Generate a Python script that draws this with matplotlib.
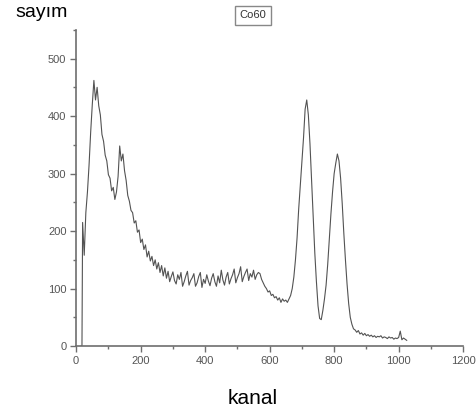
import matplotlib
matplotlib.use("Agg")
import matplotlib.pyplot as plt
from matplotlib.ticker import MultipleLocator

plt.rcParams["font.family"] = ["Liberation Sans", "DejaVu Sans"]

# Co60 spectrum (every 5 channels from 20 to 1025)
lead_kanal = [15, 18]
lead_sayim = [0, 0]
kanal_start, kanal_stop, kanal_step = 20, 1025, 5
sayim = [
    215, 158, 232, 268, 315, 372, 420, 462, 428, 450,
    418, 402, 368, 356, 332, 322, 298, 292, 270, 276,
    255, 268, 295, 348, 322, 334, 305, 288, 262, 252,
    236, 232, 214, 218, 198, 202, 180, 186, 168, 176,
    155, 165, 148, 156, 140, 150, 134, 145, 128, 140,
    122, 136, 118, 130, 112, 121, 129, 114, 108, 124,
    116, 128, 104, 112, 122, 130, 106, 114, 119, 126,
    104, 110, 121, 128, 102, 116, 109, 124, 113, 105,
    118, 126, 112, 104, 122, 110, 132, 115, 106, 120,
    128, 108, 117, 124, 134, 110, 119, 126, 138, 112,
    121, 128, 134, 114, 126, 120, 132, 116, 124, 128,
    126, 116, 110, 104, 100, 94, 96, 88, 90, 84,
    86, 80, 84, 76, 82, 78, 80, 76, 82, 88,
    100, 120, 150, 188, 238, 280, 322, 362, 412, 428,
    402, 352, 290, 226, 162, 112, 70, 48, 46, 62,
    82, 106, 142, 186, 230, 268, 300, 318, 334, 322,
    292, 248, 196, 150, 108, 74, 50, 38, 30, 28,
    24, 27, 21, 23, 19, 22, 18, 20, 17, 19,
    16, 18, 15, 17, 16, 18, 14, 16, 15, 13,
    16, 14, 15, 12, 14, 13, 15, 26, 11, 14,
    12, 10,
]

kanal = lead_kanal + list(range(kanal_start, kanal_stop + 1, kanal_step))
counts = lead_sayim + sayim

fig = plt.figure(figsize=(4.76, 4.20), dpi=100)
ax = fig.add_axes([0.160, 0.176, 0.813, 0.753])

ax.plot(kanal, counts, color="#404040", linewidth=0.8, alpha=0.9)

ax.set_xlim(0, 1200)
ax.set_ylim(0, 550)
ax.xaxis.set_major_locator(MultipleLocator(200))
ax.xaxis.set_minor_locator(MultipleLocator(100))
ax.yaxis.set_major_locator(MultipleLocator(100))
ax.yaxis.set_minor_locator(MultipleLocator(50))

for side in ("top", "right"):
    ax.spines[side].set_visible(False)
for side in ("left", "bottom"):
    ax.spines[side].set_color("#6e6e6e")
    ax.spines[side].set_linewidth(1.2)

ax.tick_params(which="major", direction="out", length=4, width=1,
               color="#6e6e6e", labelsize=8, labelcolor="#555555", pad=3)
ax.tick_params(which="minor", direction="out", length=2.5, width=1,
               color="#6e6e6e")

fig.text(0.088, 0.970, "sayım", fontsize=14, ha="center", va="center")
fig.text(0.530, 0.052, "kanal", fontsize=15, ha="center", va="center")
fig.text(0.532, 0.964, "Co60", fontsize=8, ha="center", va="center",
         color="#333333",
         bbox=dict(boxstyle="square,pad=0.4", facecolor="white",
                   edgecolor="#888888", linewidth=1))

fig.savefig("out.png", dpi=100)
